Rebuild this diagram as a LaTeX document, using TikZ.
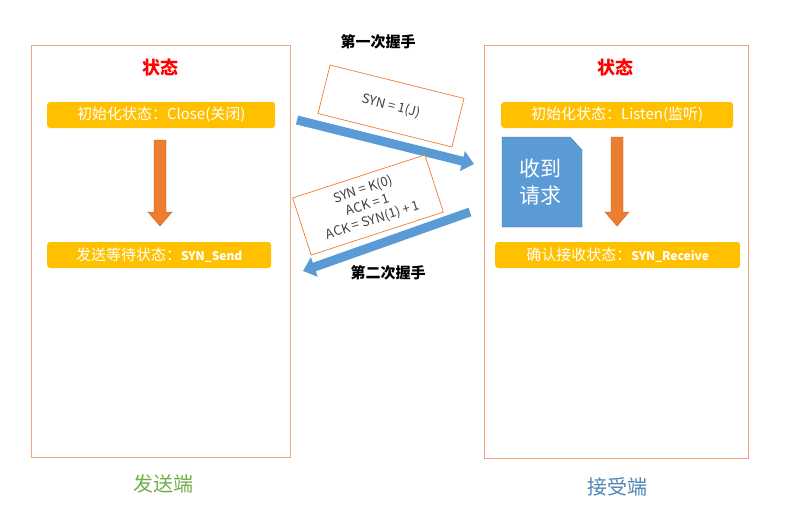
\documentclass[tikz,border=0pt]{standalone}
\usepackage{fontspec}
\setmainfont{Noto Sans CJK SC}
\usetikzlibrary{arrows.meta,shapes.geometric}
\definecolor{box}{HTML}{F4A37A}
\definecolor{ylw}{HTML}{FFC000}
\definecolor{org}{HTML}{ED7D31}
\definecolor{blu}{HTML}{5B9BD5}
\definecolor{grn}{HTML}{70AD47}
\tikzset{
 side/.style={draw=box,line width=0.8pt},
 stbox/.style={fill=ylw,rounded corners=3pt,text=white,font=\fontsize{15}{17}\selectfont,inner sep=2pt,minimum height=26pt,anchor=west},
 downarrow/.style={draw=org!80!black,line width=0.4pt,fill=org},
 flow/.style={blu,line width=9pt,-{Triangle[length=12pt,width=20pt]}},
 msg/.style={draw=org,fill=white,line width=0.7pt,align=center,font=\fontsize{13}{16}\selectfont,text=black!75},
 hdr/.style={font=\fontsize{18}{20}\selectfont\bfseries}
}
\begin{document}
\begin{tikzpicture}[x=1pt,y=-1pt]
\useasboundingbox (0,0) rectangle (798,519);
\node[side,minimum width=259pt,minimum height=412pt,anchor=north west] (L) at (31,45) {};
\node[side,minimum width=264pt,minimum height=413pt,anchor=north west] (R) at (484,45) {};
\node[text=red,hdr] (ls) at (160,68) {状态};
\node[text=red,hdr] (rs) at (615,68) {状态};
\node[stbox,minimum width=228pt] (l1) at (47,115) {初始化状态：Close(关闭)};
\node[stbox,minimum width=224pt] (l2) at (47,255) {发送等待状态：\fontsize{12}{14}\selectfont\bfseries SYN\_Send};
\node[stbox,minimum width=232pt] (r1) at (501,115) {初始化状态：Listen(监听)};
\node[stbox,minimum width=245pt] (r2) at (495,255) {确认接收状态：\fontsize{12}{14}\selectfont\bfseries SYN\_Receive};
\draw[downarrow] (154,140) -- (166,140) -- (166,212) -- (172,212) -- (160,226) -- (148,212) -- (154,212) -- cycle;
\draw[downarrow] (611,137) -- (623,137) -- (623,212) -- (629,212) -- (617,226) -- (605,212) -- (611,212) -- cycle;
\draw[fill=blu,draw=blu!70!black,line width=0.4pt] (502,137) -- (570,137) -- (582,150) -- (582,227) -- (502,227) -- cycle;
\node[text=white,font=\fontsize{21}{27}\selectfont,align=center] (req) at (540,182) {收到\\请求};
\coordinate (a1s) at (297,120);
\coordinate (a1e) at (474,164);
\draw[flow] (a1s) -- (a1e);
\coordinate (a2s) at (470,212);
\coordinate (a2e) at (303,271);
\draw[flow] (a2s) -- (a2e);
\node[msg,rotate=-14,minimum width=138pt,minimum height=50pt] (m1) at (391,106) {SYN = 1(J)};
\node[msg,rotate=18,minimum width=139pt,minimum height=60pt,inner sep=1pt] (m2) at (368,205) {SYN = K(0)\\ACK = 1\\ACK = SYN(1) + 1};
\node[font=\fontsize{15}{17}\selectfont\bfseries] (t1) at (378,42) {第一次握手};
\node[font=\fontsize{15}{17}\selectfont\bfseries] (t2) at (388,273) {第二次握手};
\node[font=\fontsize{20}{22}\selectfont,text=grn] (send) at (163,484) {发送端};
\node[font=\fontsize{20}{22}\selectfont,text=blu!85!black] (recv) at (617,487) {接受端};
\end{tikzpicture}
\end{document}
